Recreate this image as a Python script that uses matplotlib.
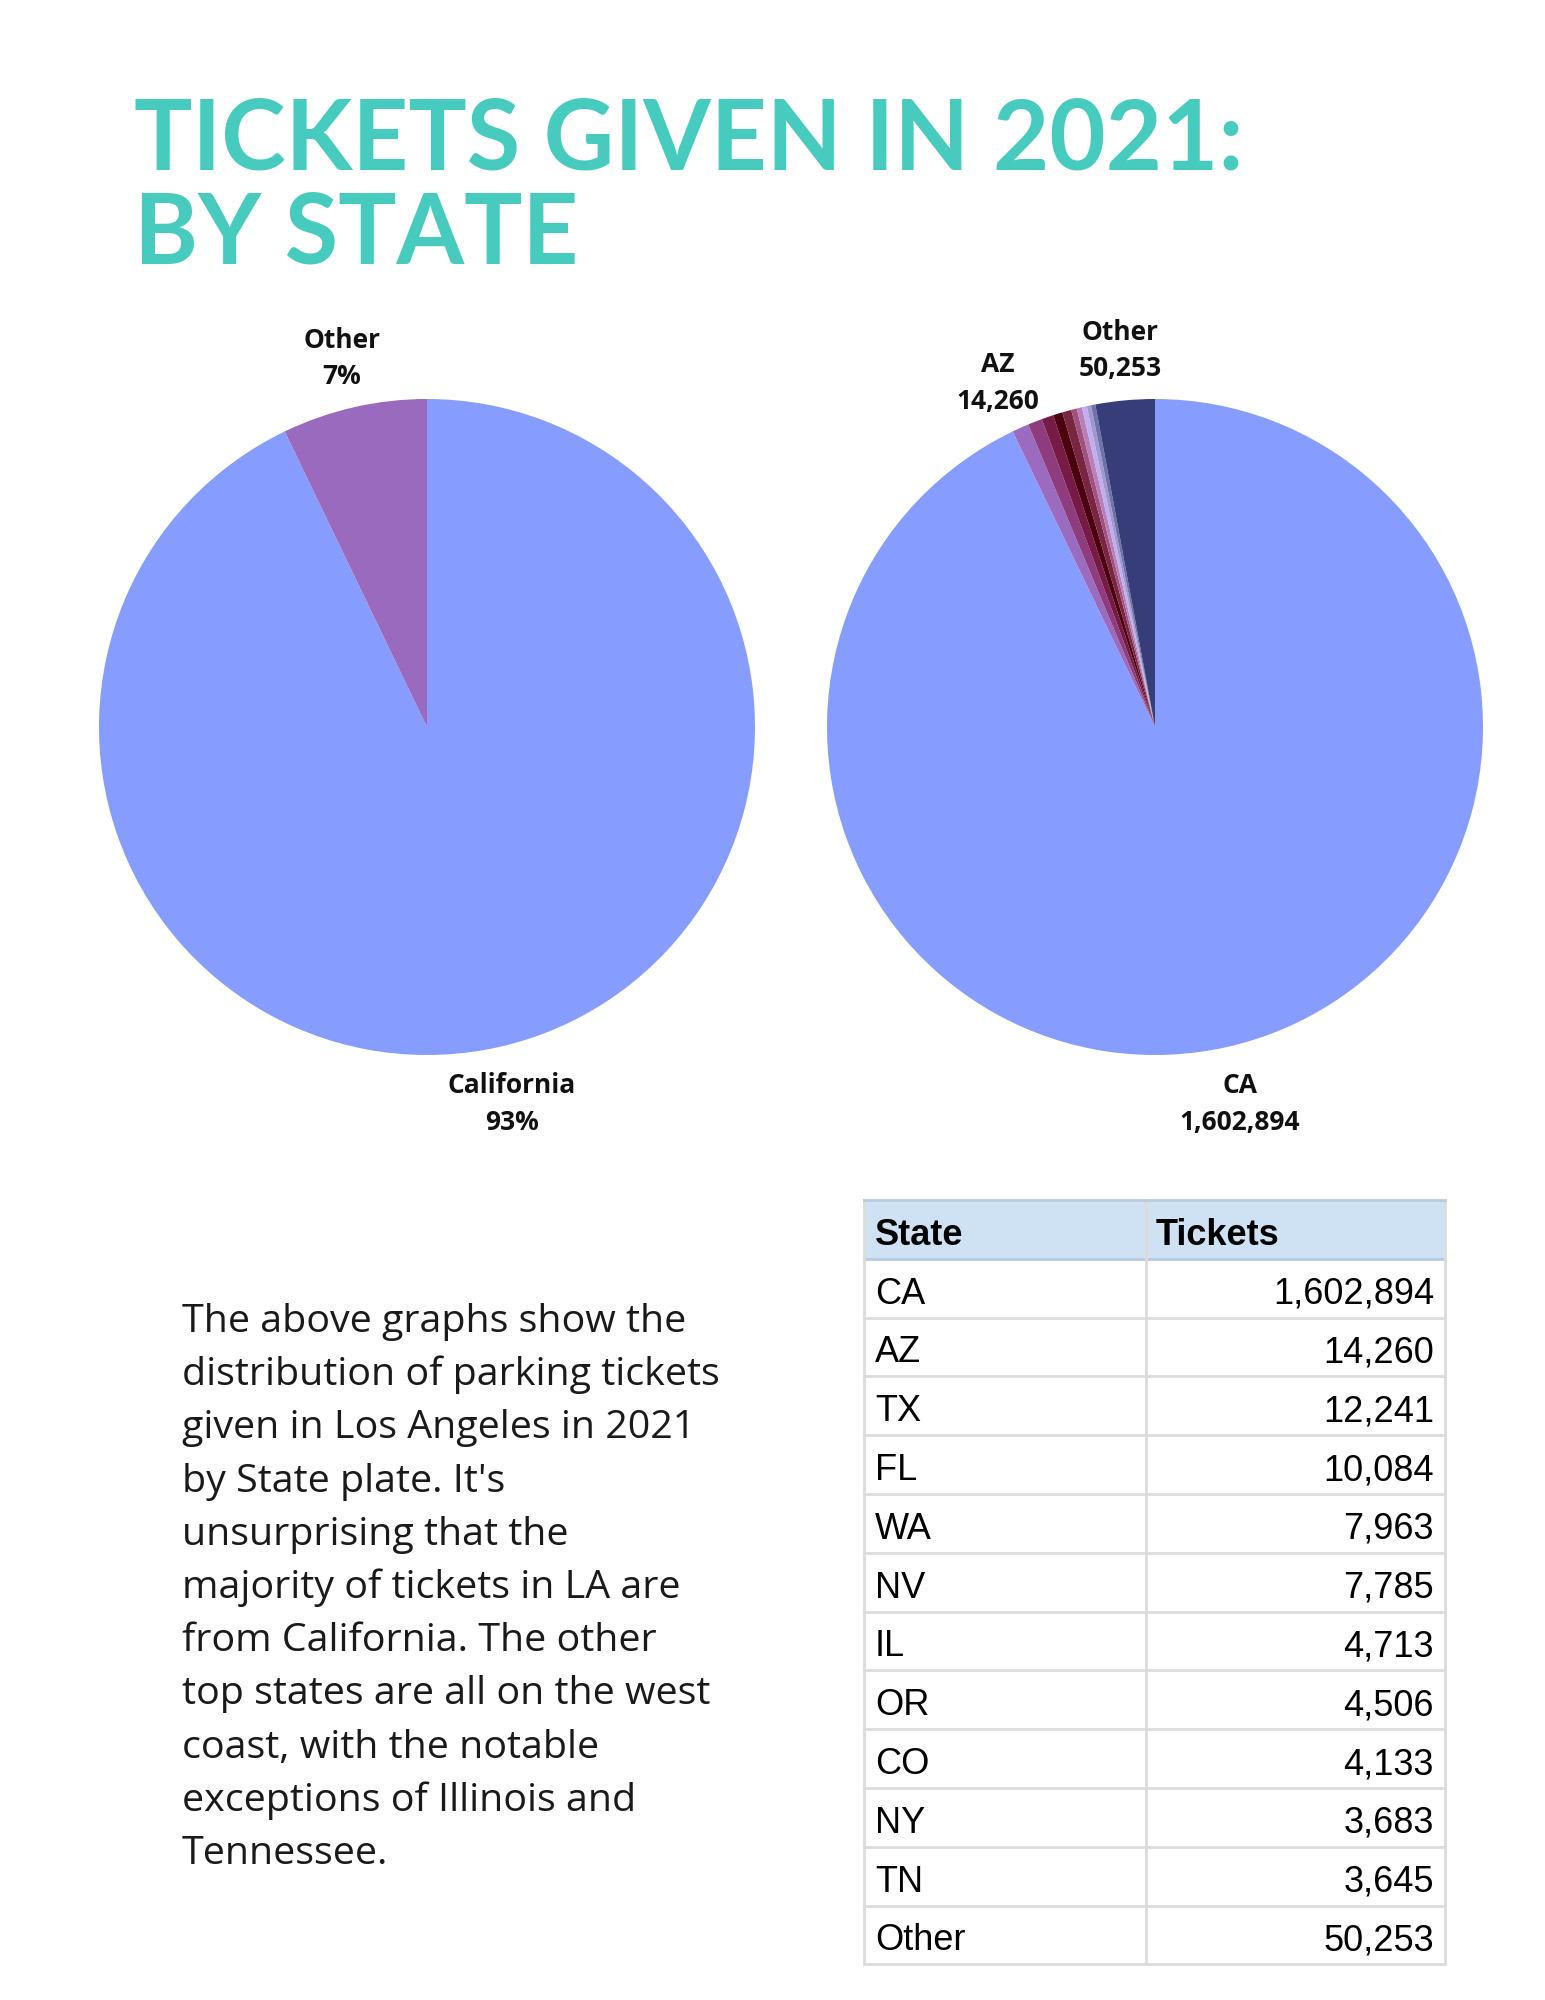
import matplotlib
matplotlib.use("Agg")
import matplotlib.pyplot as plt
from matplotlib.patches import Rectangle
import numpy as np

# ---------------------------------------------------------------------------
# data
# ---------------------------------------------------------------------------
states = ["CA", "AZ", "TX", "FL", "WA", "NV", "IL", "OR", "CO", "NY", "TN", "Other"]
tickets = [1602894, 14260, 12241, 10084, 7963, 7785, 4713, 4506, 4133, 3683, 3645, 50253]
state_colors = ["#869cfe", "#9b6bc0", "#8e3c7d", "#761b46", "#4b0010", "#782541",
                "#a0517f", "#b880b6", "#c3acef", "#9e9ad0", "#6f71a9", "#363d78"]
shown_labels = ["CA", "AZ", "Other"]

summary_labels = ["California", "Other"]
summary_colors = ["#869cfe", "#9a6abf"]

body_lines = ["The above graphs show the",
              "distribution of parking tickets",
              "given in Los Angeles in 2021",
              "by State plate. It's",
              "unsurprising that the",
              "majority of tickets in LA are",
              "from California. The other",
              "top states are all on the west",
              "coast, with the notable",
              "exceptions of Illinois and",
              "Tennessee."]

W, H = 1545, 2000
TEAL = "#48cbbf"
LABEL_FONT = dict(family=["Open Sans", "DejaVu Sans"], weight="bold", fontsize=19,
                  color="#111111", ha="center", va="center", linespacing=1.45)

fig = plt.figure(figsize=(W / 100, H / 100), dpi=100)
fig.patch.set_facecolor("white")

# overlay axes in pixel coordinates for title, text and the table
ov = fig.add_axes([0, 0, 1, 1])
ov.set_xlim(0, W)
ov.set_ylim(H, 0)
ov.axis("off")

ov.text(134, 170, "TICKETS GIVEN IN 2021:", family="Lato", weight="bold",
        fontsize=70, color=TEAL, ha="left", va="baseline")
ov.text(134, 263, "BY STATE", family="Lato", weight="bold",
        fontsize=70, color=TEAL, ha="left", va="baseline")


def pie_axes(cx, cy, r):
    return fig.add_axes([(cx - r) / W, 1 - (cy + r) / H, 2 * r / W, 2 * r / H])


def draw_pie(ax, values, colors, texts):
    vals = np.asarray(values, dtype=float)
    ax.pie(vals, colors=colors, startangle=90, counterclock=False,
           wedgeprops=dict(linewidth=0))
    ax.set_xlim(-1, 1)
    ax.set_ylim(-1, 1)
    ax.set_aspect("equal")
    ax.axis("off")
    frac = vals / vals.sum()
    mids = np.cumsum(frac) - frac / 2
    for txt, m in zip(texts, mids):
        if txt is None:
            continue
        th = np.deg2rad(90 - 360 * m)
        ax.text(1.165 * np.cos(th), 1.165 * np.sin(th) - 0.013, txt, clip_on=False,
                **LABEL_FONT)


# left pie: California vs everything else
ca = tickets[0]
rest = sum(tickets[1:])
summary_vals = [ca, rest]
tot = ca + rest
summary_texts = [f"{l}\n{round(100 * v / tot)}%" for l, v in zip(summary_labels, summary_vals)]
draw_pie(pie_axes(427, 727, 328), summary_vals, summary_colors, summary_texts)

# right pie: by state
state_texts = [f"{s}\n{v:,}" if s in shown_labels else None for s, v in zip(states, tickets)]
draw_pie(pie_axes(1155, 727, 328), tickets, state_colors, state_texts)

# body text, one line at a time
for i, line in enumerate(body_lines):
    ov.text(182, 1332 + i * 53.2, line, family=["Open Sans", "DejaVu Sans"], fontsize=28.4,
            color="#1a1a1a", ha="left", va="baseline")

# table
tx0, tx1, tmid = 864, 1445, 1146
ty0, row_h = 1200, 58.8
grid = "#dcdcdc"
ov.add_patch(Rectangle((tx0, ty0), tx1 - tx0, row_h, facecolor="#cfe2f3",
                       edgecolor="none", zorder=1))
rows = [("State", "Tickets")] + [(s, f"{v:,}") for s, v in zip(states, tickets)]
for i, (s, v) in enumerate(rows):
    y = ty0 + i * row_h
    yc = y + row_h / 2 + 6
    wt = "bold" if i == 0 else "normal"
    ov.text(tx0 + 11, yc, s, family="Liberation Sans", weight=wt, fontsize=26,
            color="#000000", ha="left", va="center", zorder=3)
    if i == 0:
        ov.text(tmid + 10, yc, v, family="Liberation Sans", weight=wt, fontsize=26,
                color="#000000", ha="left", va="center", zorder=3)
    else:
        ov.text(tx1 - 11, yc, v, family="Liberation Sans", fontsize=26,
                color="#000000", ha="right", va="center", zorder=3)
    if i > 0:
        ov.plot([tx0, tx1], [y, y], color="#b8cce0" if i == 1 else grid, lw=2, zorder=2)
ty1 = ty0 + len(rows) * row_h
ov.plot([tmid, tmid], [ty0, ty1], color=grid, lw=2, zorder=2)
ov.add_patch(Rectangle((tx0, ty0), tx1 - tx0, ty1 - ty0, facecolor="none",
                       edgecolor=grid, lw=2, zorder=2))
ov.plot([tx0, tx1], [ty0, ty0], color="#b8cce0", lw=2, zorder=2)

fig.savefig("out.png", dpi=100, facecolor="white")
